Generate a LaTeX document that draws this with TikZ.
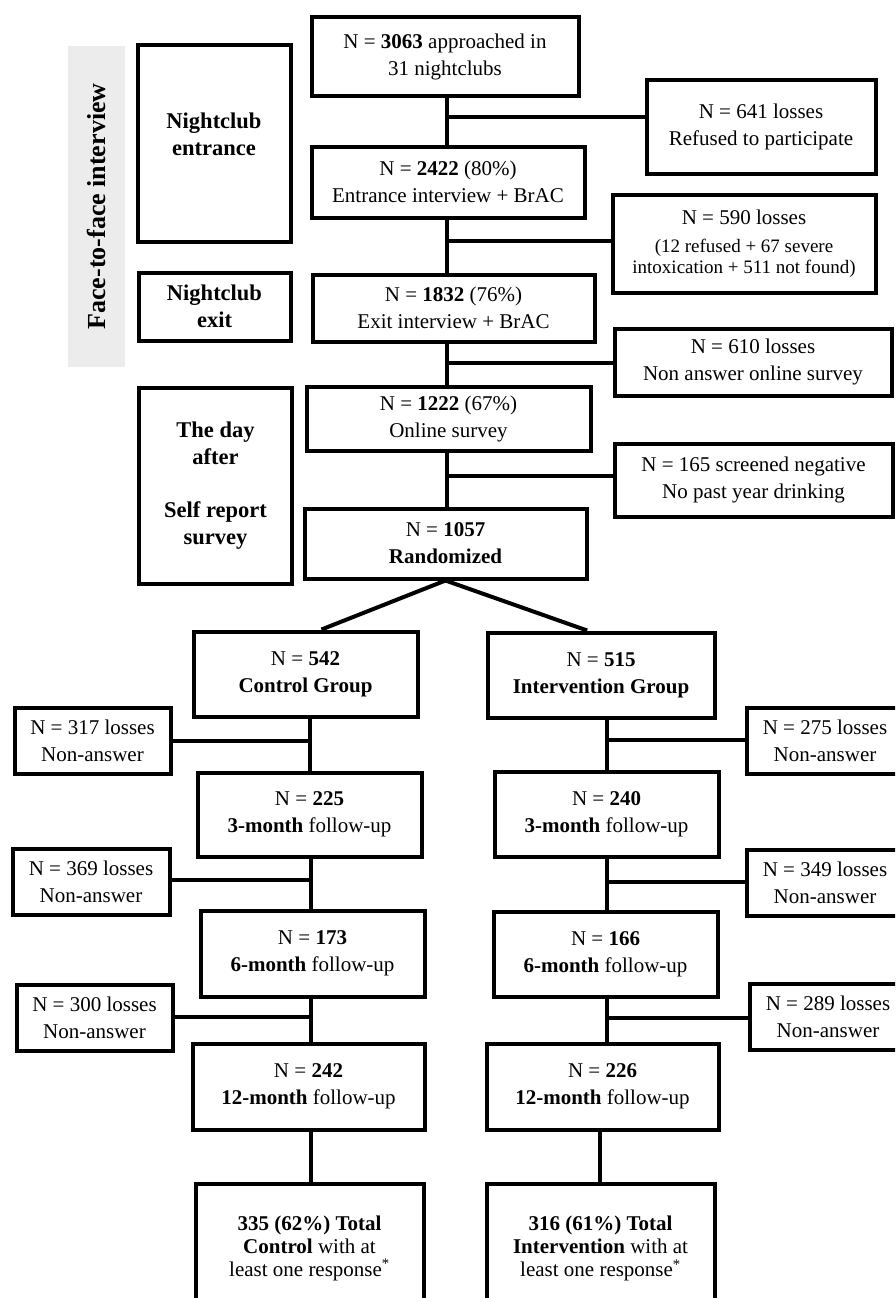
\documentclass[tikz,border=0pt]{standalone}
\usepackage{fontspec}
\setmainfont{Liberation Serif}
\usetikzlibrary{calc}
\begin{document}
\begin{tikzpicture}[x=1pt,y=-1pt,
  box/.style={draw, line width=4pt, align=center, inner sep=0pt,
    font=\fontsize{21}{27}\selectfont},
  sbox/.style={box, font=\fontsize{22.5}{27}\selectfont\bfseries},
  stext/.style={align=center, inner sep=0pt, font=\fontsize{22.5}{27}\selectfont\bfseries},
  tbox/.style={box, font=\fontsize{21}{23}\selectfont},
  conn/.style={line width=3.5pt},
  diag/.style={line width=4pt}]
\useasboundingbox (0,0) rectangle (895,1298);
\clip (0,0) rectangle (895,1298);

% side band
\node[fill=gray!15, minimum width=57pt, minimum height=321pt, inner sep=0pt] (band) at (96.5,206.5) {};
\node[rotate=90, inner sep=0pt, font=\fontsize{26}{30}\selectfont\bfseries] (fft) at (band.center) {Face-to-face interview};

% stage labels
\node[box, minimum width=153pt, minimum height=196pt] (s1) at (214,143.5) {};
\node[stext] (s1t) at (214,134.5) {Nightclub\\entrance};
\node[sbox, minimum width=152pt, minimum height=68pt] (s2) at (214.5,306.5) {Nightclub\\exit};
\node[sbox, minimum width=153pt, minimum height=196pt] (s3) at (215.5,486) {The day\\after\\[26pt]Self report\\survey};

% main chain
\node[box, minimum width=267pt, minimum height=78pt] (b1) at (445,56.5) {N = \textbf{3063} approached in\\31 nightclubs};
\node[box, minimum width=273pt, minimum height=71pt] (b2) at (448,182) {N = \textbf{2422} (80\%)\\Entrance interview + BrAC};
\node[box, minimum width=282pt, minimum height=67pt] (b3) at (453.5,308) {N = \textbf{1832} (76\%)\\Exit interview + BrAC};
\node[box, minimum width=284pt, minimum height=64pt] (b4) at (448.5,418.5) {N = \textbf{1222} (67\%)\\Online survey};
\node[box, minimum width=282pt, minimum height=70pt] (b5) at (445.5,543.5) {N = \textbf{1057}\\\textbf{Randomized}};

% losses (top)
\node[box, minimum width=229pt, minimum height=94pt] (l1) at (761,126.5) {N = 641 losses\\Refused to participate};
\node[box, font=\fontsize{19}{21}\selectfont, minimum width=263pt, minimum height=98pt] (l2) at (744,243.5) {\fontsize{21}{21}\selectfont N = 590 losses\\[7pt]\fontsize{19}{21}\selectfont (12 refused + 67 severe\\\fontsize{19}{21}\selectfont intoxication + 511 not found)};
\node[box, minimum width=277pt, minimum height=67pt] (l3) at (753,362) {N = 610 losses\\Non answer online survey};
\node[box, minimum width=278pt, minimum height=73pt] (l4) at (753.5,480) {N = 165 screened negative\\No past year drinking};

% groups
\node[box, minimum width=224pt, minimum height=85pt] (c0) at (305.5,674) {N = \textbf{542}\\\textbf{Control Group}};
\node[box, minimum width=227pt, minimum height=85pt] (i0) at (601,675) {N = \textbf{515}\\\textbf{Intervention Group}};
\node[box, minimum width=224pt, minimum height=84pt] (c1) at (309.5,814.5) {N = \textbf{225}\\\textbf{3-month} follow-up};
\node[box, minimum width=224pt, minimum height=85pt] (i1) at (606.5,814) {N = \textbf{240}\\\textbf{3-month} follow-up};
\node[box, minimum width=224pt, minimum height=86pt] (c2) at (312.5,953.5) {N = \textbf{173}\\\textbf{6-month} follow-up};
\node[box, minimum width=224pt, minimum height=85pt] (i2) at (605.5,954) {N = \textbf{166}\\\textbf{6-month} follow-up};
\node[box, minimum width=232pt, minimum height=86pt] (c3) at (308.5,1086.5) {N = \textbf{242}\\\textbf{12-month} follow-up};
\node[box, minimum width=232pt, minimum height=86pt] (i3) at (602.5,1086.5) {N = \textbf{226}\\\textbf{12-month} follow-up};
\node[tbox, minimum width=228pt, minimum height=129pt] (c4) at (309.5,1248) {\textbf{335 (62\%) Total}\\\textbf{Control} with at\\least one response\textsuperscript{*}};
\node[tbox, minimum width=228pt, minimum height=129pt] (i4) at (600.5,1248.5) {\textbf{316 (61\%) Total}\\\textbf{Intervention} with at\\least one response\textsuperscript{*}};

% side losses
\node[box, minimum width=156pt, minimum height=66pt] (lc1) at (92.5,740.5) {N = 317 losses\\Non-answer};
\node[box, minimum width=157pt, minimum height=66pt] (lc2) at (91,881.5) {N = 369 losses\\Non-answer};
\node[box, minimum width=156pt, minimum height=66pt] (lc3) at (94.5,1017.5) {N = 300 losses\\Non-answer};
\node[box, minimum width=157pt, minimum height=66pt] (li1) at (825,740.5) {N = 275 losses\\Non-answer};
\node[box, minimum width=157pt, minimum height=66pt] (li2) at (825,882.5) {N = 349 losses\\Non-answer};
\node[box, minimum width=157pt, minimum height=66pt] (li3) at (828,1016.5) {N = 289 losses\\Non-answer};

% trunk junctions
\coordinate (t1) at (447,117);
\coordinate (t2) at (447,241);
\coordinate (t3) at (447,363);
\coordinate (t4) at (447,476);
\coordinate (tc1) at (310,741);
\coordinate (tc2) at (311,880);
\coordinate (tc3) at (311,1017);
\coordinate (tc4) at (311,1156);
\coordinate (ti1) at (607,740);
\coordinate (ti2) at (607,882);
\coordinate (ti3) at (607,1018);
\coordinate (ti4) at (600,1156);

% main trunk
\draw[conn] (b1.south -| t1) -- (b2.north -| t1);
\draw[conn] (b2.south -| t2) -- (b3.north -| t2);
\draw[conn] (b3.south -| t3) -- (b4.north -| t3);
\draw[conn] (b4.south -| t4) -- (b5.north -| t4);
\draw[conn] (t1) -- (l1.west |- t1);
\draw[conn] (t2) -- (l2.west |- t2);
\draw[conn] (t3) -- (l3.west |- t3);
\draw[conn] (t4) -- (l4.west |- t4);

% randomization split
\draw[diag] (b5.south) -- ($(c0.north west)!0.57!(c0.north east)$);
\draw[diag] (b5.south) -- ($(i0.north west)!0.44!(i0.north east)$);

% control chain
\draw[conn] (c0.south -| tc1) -- (c1.north -| tc1);
\draw[conn] (c1.south -| tc2) -- (c2.north -| tc2);
\draw[conn] (c2.south -| tc3) -- (c3.north -| tc3);
\draw[conn] (c3.south -| tc4) -- (c4.north -| tc4);
\draw[conn] (tc1) -- (lc1.east |- tc1);
\draw[conn] (tc2) -- (lc2.east |- tc2);
\draw[conn] (tc3) -- (lc3.east |- tc3);

% intervention chain
\draw[conn] (i0.south -| ti1) -- (i1.north -| ti1);
\draw[conn] (i1.south -| ti2) -- (i2.north -| ti2);
\draw[conn] (i2.south -| ti3) -- (i3.north -| ti3);
\draw[conn] (i3.south -| ti4) -- (i4.north -| ti4);
\draw[conn] (ti1) -- (li1.west |- ti1);
\draw[conn] (ti2) -- (li2.west |- ti2);
\draw[conn] (ti3) -- (li3.west |- ti3);
\end{tikzpicture}
\end{document}
